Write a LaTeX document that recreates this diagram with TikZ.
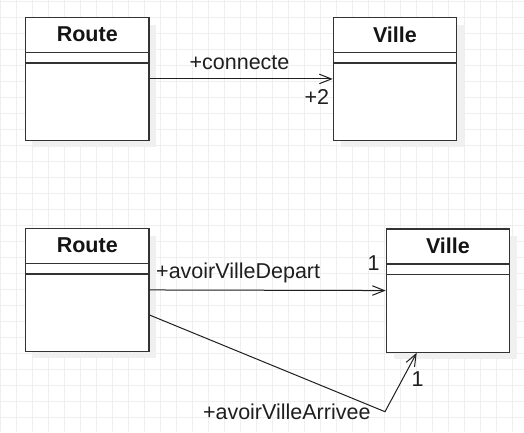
\documentclass[tikz,border=0pt]{standalone}
\usepackage{fontspec}
\setmainfont{Liberation Sans}
\usetikzlibrary{arrows.meta,calc}
\definecolor{linec}{HTML}{333333}
\definecolor{gridc}{HTML}{EFEFEF}
\definecolor{shadc}{HTML}{F0F0F0}
\tikzset{
  cls/.style={draw=linec, line width=1.2pt, fill=white, inner sep=0pt,
    minimum width=123.3pt, minimum height=123.3pt, anchor=north west},
  divline/.style={draw=linec, line width=1.2pt},
  shad/.style={fill=shadc, draw=none},
  ttl/.style={font=\fontsize{21.5}{25}\selectfont\bfseries, inner sep=0pt, text=black!92},
  lbl/.style={font=\fontsize{21.5}{25}\selectfont, inner sep=0pt, text=black!88},
  conn/.style={draw=black!88, line width=1pt, -{Straight Barb[length=12pt,width=9.5pt]}},
  gridl/.style={draw=gridc, line width=1pt}
}
\begin{document}
\begin{tikzpicture}[x=1pt,y=-1pt]
\useasboundingbox (0,0) rectangle (524,432);
\fill[white] (0,0) rectangle (524,432);
% grid
\foreach \gx in {0,...,32} {\draw[gridl] (0.5+16*\gx,0) -- (0.5+16*\gx,432);}
\foreach \gy in {0,...,26} {\draw[gridl] (0,1+16*\gy) -- (524,1+16*\gy);}
% shadows
\foreach \sx/\sy in {25/16.7, 332.7/16.7, 25/227.7, 385.7/228.3}
  {\fill[shad] (\sx+8,\sy+8) rectangle (\sx+131.3,\sy+130.3);}
% classes
\node[cls] (route1) at (25,16.7) {};
\node[cls] (ville1) at (332.7,16.7) {};
\node[cls] (route2) at (25,227.7) {};
\node[cls] (ville2) at (385.7,228.3) {};
\foreach \n in {route1,ville1,route2,ville2} {
  \draw[divline] ($(\n.north west)+(0,35.6)$) -- ($(\n.north east)+(0,35.6)$);
  \draw[divline] ($(\n.north west)+(0,46.3)$) -- ($(\n.north east)+(0,46.3)$);
}
\node[ttl] (route1t) at ($(route1.north)+(0,17.8)$) {Route};
\node[ttl] (ville1t) at ($(ville1.north)+(0,17.8)$) {Ville};
\node[ttl] (route2t) at ($(route2.north)+(0,17.8)$) {Route};
\node[ttl] (ville2t) at ($(ville2.north)+(0,17.8)$) {Ville};
% connectors
\draw[conn] (route1.east) -- (ville1.west);
\node[lbl, anchor=base] (l1) at (239.5,69.3) {+connecte};
\node[lbl, anchor=base east] (m1) at (329.3,104.5) {+2};
\draw[conn] (route2.east) -- (ville2.west);
\node[lbl, anchor=base west] (l2) at (156,278.3) {+avoirVilleDepart};
\node[lbl, anchor=base] (m2) at (373.7,270) {1};
\coordinate (bend) at (385,411.7);
\draw[conn] ($(route2.north east)+(0,87.3)$) -- (bend) -- ($(ville2.south west)+(31,0)$);
\node[lbl, anchor=base east] (l3) at (370.7,419.5) {+avoirVilleArrivee};
\node[lbl, anchor=base] (m3) at (417.7,386) {1};
\end{tikzpicture}
\end{document}
